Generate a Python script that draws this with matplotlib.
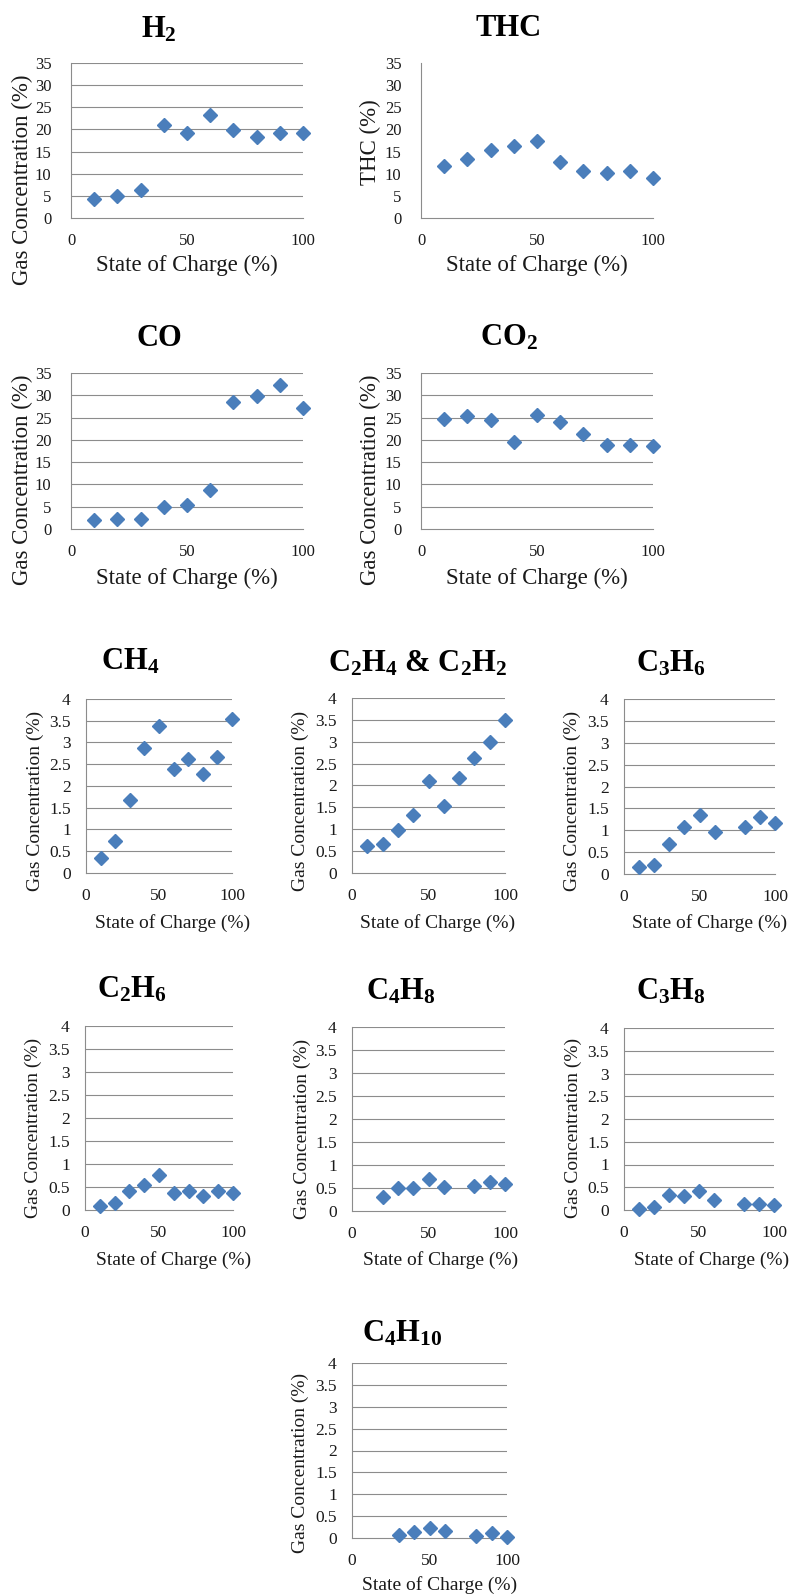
"""Gas concentration vs state of charge, one small scatter panel per gas."""

import matplotlib

matplotlib.use("Agg")
import matplotlib.pyplot as plt
import numpy as np

plt.rcParams["font.family"] = ["Liberation Serif", "DejaVu Serif"]
plt.rcParams["mathtext.fontset"] = "custom"
plt.rcParams["mathtext.rm"] = "Liberation Serif"
plt.rcParams["mathtext.bf"] = "Liberation Serif:bold"
plt.rcParams["mathtext.default"] = "bf"

# ---------------------------------------------------------------------------
# Data (nan = no point drawn).
# ---------------------------------------------------------------------------

soc = [10, 20, 30, 40, 50, 60, 70, 80, 90, 100]
nan = np.nan

h2 = [4.2, 4.9, 6.4, 21.1, 19.2, 23.3, 19.9, 18.4, 19.3, 19.3]
thc = [11.7, 13.4, 15.3, 16.2, 17.5, 12.7, 10.7, 10.1, 10.7, 9.0]
co = [2.0, 2.3, 2.3, 4.9, 5.3, 8.8, 28.5, 29.9, 32.2, 27.1]
co2 = [24.6, 25.3, 24.5, 19.6, 25.5, 24.0, 21.3, 18.9, 18.9, 18.7]

ch4 = [0.34, 0.73, 1.68, 2.88, 3.37, 2.40, 2.61, 2.28, 2.67, 3.55]
c2h4_c2h2 = [0.61, 0.67, 0.99, 1.32, 2.10, 1.52, 2.17, 2.63, 3.00, 3.50]
c3h6 = [0.15, 0.21, 0.69, 1.07, 1.34, 0.97, nan, 1.08, 1.31, 1.16]
c2h6 = [0.09, 0.15, 0.42, 0.54, 0.76, 0.36, 0.41, 0.30, 0.41, 0.36]
c4h8 = [nan, 0.30, 0.50, 0.49, 0.70, 0.52, nan, 0.54, 0.64, 0.59]
c3h8 = [0.02, 0.07, 0.33, 0.31, 0.41, 0.22, nan, 0.14, 0.14, 0.12]
c4h10 = [nan, nan, 0.08, 0.14, 0.24, 0.17, nan, 0.05, 0.11, 0.02]

big_ticks = [0, 5, 10, 15, 20, 25, 30, 35]
small_ticks = [0, 0.5, 1, 1.5, 2, 2.5, 3, 3.5, 4]
x_ticks = [0, 50, 100]

# ---------------------------------------------------------------------------
# Layout (pixel coordinates in an 798x1596 canvas).
# ---------------------------------------------------------------------------

W, H = 798, 1596
BLUE = "#4a7ebb"
GRID = "#8c8c8c"
INK = "#1a1a1a"

fig = plt.figure(figsize=(W / 100, H / 100), dpi=100)


def px_axes(left, top, right, bottom):
    return fig.add_axes([left / W, 1 - bottom / H, (right - left) / W, (bottom - top) / H])


def px_text(x, y, s, **kw):
    fig.text(x / W, 1 - y / H, s, **kw)


def panel(values, box, title, title_xy, ylabel, ylabel_xy, xlabel_xy, yticks, big, grid=True):
    ax = px_axes(*box)
    ax.plot(soc, values, linestyle="none", marker="D", ms=6.8, color=BLUE,
            markeredgecolor=BLUE, clip_on=False, zorder=3)
    ax.set_xlim(0, 100)
    ax.set_ylim(yticks[0], yticks[-1])
    ax.set_xticks(x_ticks)
    ax.set_yticks(yticks)
    ax.set_yticklabels([f"{v:g}" for v in yticks])
    tick_fs = 12 if big else 12.5
    ax.tick_params(axis="both", length=0, labelsize=tick_fs, colors=INK)
    ax.tick_params(axis="y", pad=14 if big else 11)
    ax.tick_params(axis="x", pad=11)
    for side in ("top", "right"):
        ax.spines[side].set_visible(False)
    ax.spines["left"].set_color(GRID)
    ax.spines["bottom"].set_color(GRID)
    ax.spines["left"].set_linewidth(0.8)
    ax.spines["bottom"].set_linewidth(0.8)
    if grid:
        for v in yticks[1:]:
            ax.axhline(v, color=GRID, lw=0.8, zorder=1)
    label_fs = 16.5 if big else 14
    px_text(*title_xy, title, fontsize=22, fontweight="bold", ha="center", va="baseline", color="black")
    px_text(*xlabel_xy, "State of Charge (%)", fontsize=label_fs, ha="center", va="center", color=INK)
    px_text(*ylabel_xy, ylabel, fontsize=label_fs, ha="center", va="center", rotation=90, color=INK)
    return ax


GAS = "Gas Concentration (%)"

# rows 1-2: 0-35 % scale
panel(h2, (71, 63, 303, 218), "H$_2$", (159, 37), GAS, (22, 180), (187, 265), big_ticks, True)
panel(thc, (421, 63, 653, 218), "THC", (509, 36), "THC (%)", (370, 142), (537, 265), big_ticks, True,
      grid=False)
panel(co, (71, 373, 303, 529), "CO", (159, 346), GAS, (22, 480), (187, 578), big_ticks, True)
panel(co2, (421, 373, 653, 529), "CO$_2$", (509, 346), GAS, (370, 480), (537, 578), big_ticks, True)

# rows 3-5: 0-4 % scale
panel(ch4, (86, 699, 232, 873), "CH$_4$", (130, 670), GAS, (35, 801), (173, 923), small_ticks, False)
panel(c2h4_c2h2, (352, 698, 505, 873), "C$_2$H$_4$ & C$_2$H$_2$", (418, 672), GAS, (300, 801),
      (438, 923), small_ticks, False)
panel(c3h6, (624, 699, 775, 874), "C$_3$H$_6$", (671, 672), GAS, (572, 801), (710, 923),
      small_ticks, False)

panel(c2h6, (85, 1026, 233, 1210), "C$_2$H$_6$", (132, 998), GAS, (33, 1128), (174, 1260),
      small_ticks, False)
panel(c4h8, (352, 1027, 505, 1211), "C$_4$H$_8$", (401, 999), GAS, (302, 1129), (441, 1260),
      small_ticks, False)
panel(c3h8, (624, 1028, 774, 1210), "C$_3$H$_8$", (671, 999), GAS, (573, 1128), (712, 1260),
      small_ticks, False)

panel(c4h10, (352, 1363, 507, 1538), "C$_4$H$_{10}$", (402, 1341), GAS, (300, 1463), (440, 1585),
      small_ticks, False)

fig.savefig("out.png", dpi=100)
